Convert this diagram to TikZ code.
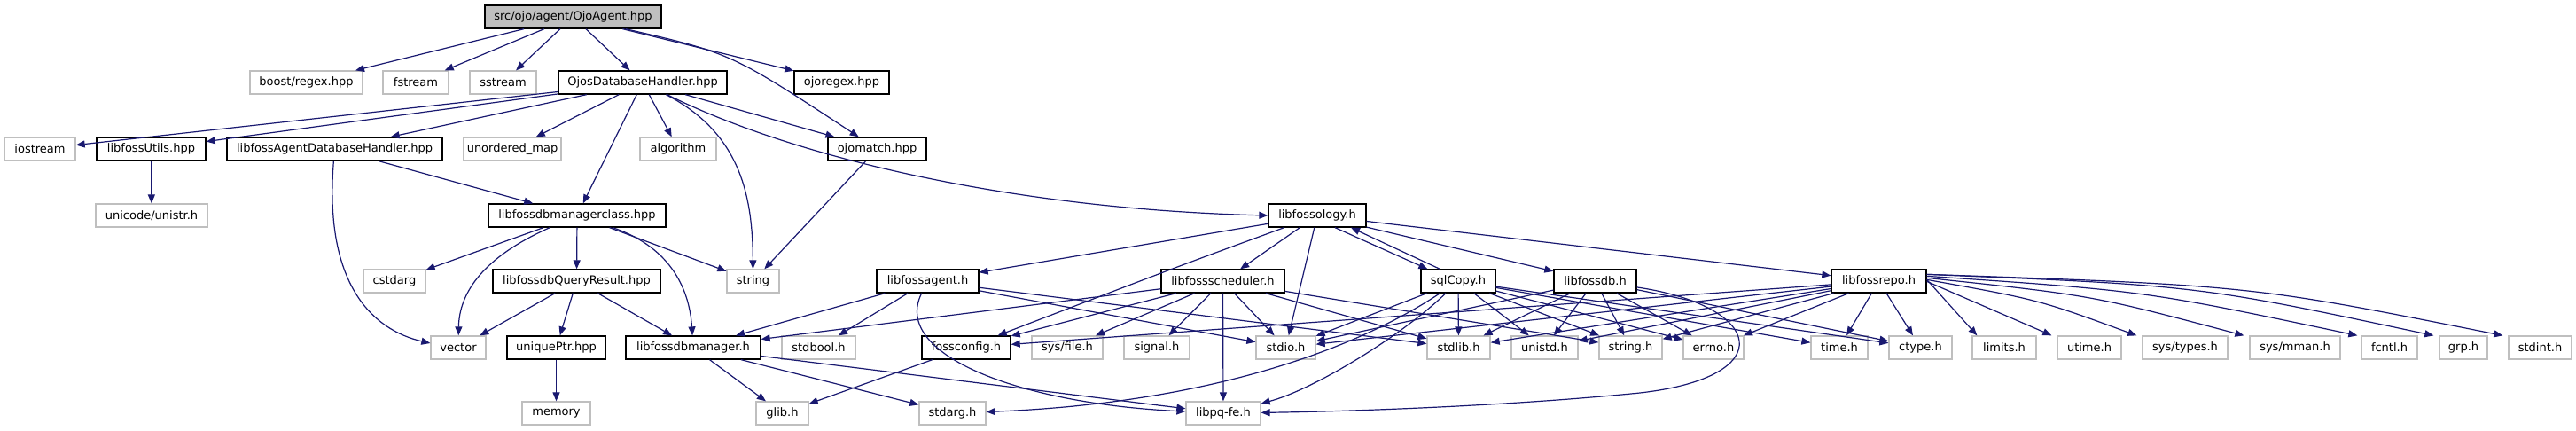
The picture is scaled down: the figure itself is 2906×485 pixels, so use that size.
\documentclass[tikz,border=0pt]{standalone}
\usepackage{fontspec}
\setmainfont{DejaVu Sans}
\usetikzlibrary{arrows.meta}
\definecolor{dxblue}{HTML}{191970}
\definecolor{dxgrey}{HTML}{BFBFBF}
\tikzset{
  base/.style={rectangle, inner sep=0pt, minimum height=26pt, line width=1.3pt,
    font=\fontsize{13}{15}\selectfont, text=black},
  sysbox/.style={base, draw=dxgrey, fill=white},
  docbox/.style={base, draw=black, fill=white},
  rootbox/.style={base, draw=black, fill=dxgrey},
  edge/.style={draw=dxblue, line width=1.2pt, -{Triangle[length=10pt,width=8pt]}}
}
\newcommand\nd[6]{\node[#6, minimum width=#3pt-#2pt] (#1) at ({(#2+#3)/2},{#4+13}) {#5};}
\begin{document}
\begin{tikzpicture}[x=1pt,y=-1pt]
\useasboundingbox (0,0) rectangle (2906,485);
% row 1
\nd{root}{547}{746}{6}{src/ojo/agent/OjoAgent.hpp}{rootbox}
% row 2
\nd{boost}{282}{409}{80}{boost/regex.hpp}{sysbox}
\nd{fstream}{432}{506}{80}{fstream}{sysbox}
\nd{sstream}{530}{605}{80}{sstream}{sysbox}
\nd{ojosdb}{630}{820}{80}{OjosDatabaseHandler.hpp}{docbox}
\nd{ojoregex}{896}{1003}{80}{ojoregex.hpp}{docbox}
% row 3
\nd{iostream}{5}{85}{155}{iostream}{sysbox}
\nd{futils}{109}{232}{155}{libfossUtils.hpp}{docbox}
\nd{fagentdb}{256}{499}{155}{libfossAgentDatabaseHandler.hpp}{docbox}
\nd{umap}{523}{633}{155}{unordered\_map}{sysbox}
\nd{algo}{722}{808}{155}{algorithm}{sysbox}
\nd{ojomatch}{934}{1045}{155}{ojomatch.hpp}{docbox}
% row 4
\nd{unistr}{108}{234}{230}{unicode/unistr.h}{sysbox}
\nd{dbmclass}{551}{751}{230}{libfossdbmanagerclass.hpp}{docbox}
\nd{fology}{1431}{1541}{230}{libfossology.h}{docbox}
% row 5
\nd{cstdarg}{410}{480}{304}{cstdarg}{sysbox}
\nd{dbqr}{556}{745}{304}{libfossdbQueryResult.hpp}{docbox}
\nd{string}{820}{879}{304}{string}{sysbox}
\nd{fagent}{989}{1104}{304}{libfossagent.h}{docbox}
\nd{fsched}{1310}{1449}{304}{libfossscheduler.h}{docbox}
\nd{sqlcopy}{1603}{1687}{304}{sqlCopy.h}{docbox}
\nd{fdb}{1753}{1846}{304}{libfossdb.h}{docbox}
\nd{frepo}{2066}{2173}{304}{libfossrepo.h}{docbox}
% row 6
\nd{vector}{486}{548}{379}{vector}{sysbox}
\nd{uptr}{572}{683}{379}{uniquePtr.hpp}{docbox}
\nd{dbm}{706}{858}{379}{libfossdbmanager.h}{docbox}
\nd{stdbool}{882}{965}{379}{stdbool.h}{sysbox}
\nd{fconf}{1040}{1140}{379}{fossconfig.h}{docbox}
\nd{sysfile}{1164}{1244}{379}{sys/file.h}{sysbox}
\nd{signal}{1268}{1342}{379}{signal.h}{sysbox}
\nd{stdio}{1417}{1484}{379}{stdio.h}{sysbox}
\nd{stdlib}{1610}{1681}{379}{stdlib.h}{sysbox}
\nd{unistd}{1705}{1780}{379}{unistd.h}{sysbox}
\nd{stringh}{1804}{1875}{379}{string.h}{sysbox}
\nd{errno}{1899}{1967}{379}{errno.h}{sysbox}
\nd{time}{2043}{2107}{379}{time.h}{sysbox}
\nd{ctype}{2131}{2202}{379}{ctype.h}{sysbox}
\nd{limits}{2225}{2297}{379}{limits.h}{sysbox}
\nd{utime}{2321}{2393}{379}{utime.h}{sysbox}
\nd{systypes}{2417}{2513}{379}{sys/types.h}{sysbox}
\nd{sysmman}{2538}{2640}{379}{sys/mman.h}{sysbox}
\nd{fcntl}{2664}{2727}{379}{fcntl.h}{sysbox}
\nd{grp}{2752}{2806}{379}{grp.h}{sysbox}
\nd{stdint}{2830}{2901}{379}{stdint.h}{sysbox}
% row 7
\nd{memory}{589}{666}{453}{memory}{sysbox}
\nd{glib}{853}{912}{453}{glib.h}{sysbox}
\nd{stdarg}{1037}{1112}{453}{stdarg.h}{sysbox}
\nd{libpq}{1338}{1422}{453}{libpq-fe.h}{sysbox}

% straight edges
\foreach \a/\b in {root/boost, root/fstream, root/sstream, root/ojosdb, root/ojoregex,
  ojosdb/iostream, ojosdb/futils, ojosdb/fagentdb, ojosdb/umap, ojosdb/algo, ojosdb/dbmclass, ojosdb/ojomatch,
  futils/unistr, fagentdb/dbmclass, ojomatch/string,
  dbmclass/cstdarg, dbmclass/dbqr, dbmclass/string,
  dbqr/vector, dbqr/uptr, dbqr/dbm, uptr/memory,
  dbm/glib, dbm/stdarg, dbm/libpq, fconf/glib,
  fology/fagent, fology/fsched, fology/stdio, fology/fdb, fology/frepo,
  fagent/dbm, fagent/stdbool, fagent/stdio, fagent/stdlib,
  fsched/dbm, fsched/fconf, fsched/sysfile, fsched/signal, fsched/libpq, fsched/stdio, fsched/stdlib, fsched/stringh,
  sqlcopy/stdio, sqlcopy/stdlib, sqlcopy/unistd, sqlcopy/stringh, sqlcopy/errno, sqlcopy/ctype, sqlcopy/time,
  fdb/stdio, fdb/stdlib, fdb/unistd, fdb/stringh, fdb/errno, fdb/ctype,
  frepo/fconf, frepo/stdio, frepo/stdlib, frepo/unistd, frepo/stringh, frepo/errno, frepo/time, frepo/ctype}
  \draw[edge] (\a) -- (\b);

% libfossrepo fan to the right
\draw[edge] ([yshift=-12pt]frepo.north east) -- ([xshift=6pt]limits.north west);
\draw[edge] ([yshift=-14pt]frepo.north east) .. controls (2240,345) .. ([xshift=-6pt]utime.north west);
\draw[edge] ([yshift=-12pt]frepo.north east) .. controls (2300,338) .. ([xshift=-6pt]systypes.north west);
\draw[edge] ([yshift=-10pt]frepo.north east) .. controls (2360,333) .. ([xshift=-6pt]sysmman.north west);
\draw[edge] ([yshift=-8pt]frepo.north east) .. controls (2420,328) .. ([xshift=-4pt]fcntl.north west);
\draw[edge] ([yshift=-6pt]frepo.north east) .. controls (2480,322) .. ([xshift=-6pt]grp.north west);
\draw[edge] ([yshift=-6pt]frepo.north east) .. controls (2540,322) .. ([xshift=-6pt]stdint.north west);

% curved edges
\draw[edge] (root) .. controls (825,60) .. (ojomatch);
\draw[edge] (ojosdb) .. controls (900,180) and (1150,236) .. (fology.west);
\draw[edge] (ojosdb) .. controls (835,150) and (849,220) .. (string);
\draw[edge] (fagentdb) .. controls (365,320) and (420,372) .. ([yshift=5pt]vector.west);
\draw[edge] (dbmclass) .. controls (545,290) and (518,330) .. (vector);
\draw[edge] (dbmclass) .. controls (760,280) and (778,330) .. (dbm);
\draw[edge] (fagent) .. controls (1005,400) and (1150,455) .. (libpq);
\draw[edge] (fology) .. controls (1330,300) .. (fconf);
\draw[edge] (sqlcopy) .. controls (1520,400) and (1350,455) .. (stdarg);
\draw[edge] (sqlcopy) .. controls (1580,380) and (1480,440) .. (libpq);
\draw[edge] (fdb) .. controls (1990,345) and (2010,425) .. (1850,443) .. controls (1700,458) and (1520,464) .. (libpq);
\draw[edge] ([xshift=20pt]fology.south) -- ([xshift=8pt]sqlcopy.north west);
\draw[edge] ([xshift=22pt]sqlcopy.north west) -- ([xshift=38pt]fology.south);
\end{tikzpicture}
\end{document}
